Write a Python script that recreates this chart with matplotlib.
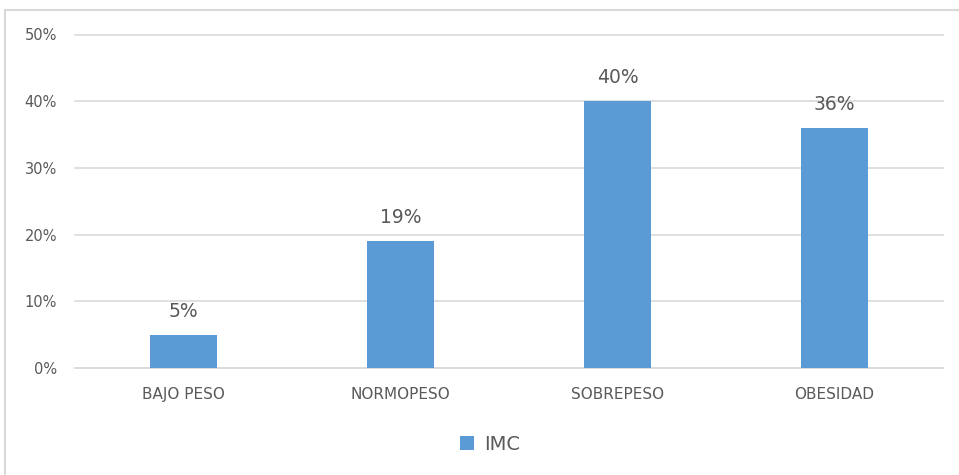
import matplotlib
matplotlib.use("Agg")
import matplotlib.pyplot as plt
from matplotlib.patches import Rectangle, Patch
from matplotlib.ticker import FuncFormatter, MultipleLocator

categories = ["BAJO PESO", "NORMOPESO", "SOBREPESO", "OBESIDAD"]
imc_pct = [5, 19, 40, 36]
series_name = "IMC"

BAR_COLOR = "#5b9bd5"
TEXT_GRAY = "#595959"
GRID_GRAY = "#d9d9d9"

plt.rcParams["font.family"] = ["DejaVu Sans"]

W, H = 959, 475
fig = plt.figure(figsize=(W / 100, H / 100), dpi=100)
ax = fig.add_axes([75 / W, 1 - 368 / H, (943 - 75) / W, (368 - 34.5) / H])

x = list(range(len(categories)))
bars = ax.bar(x, imc_pct, width=0.313, color=BAR_COLOR, zorder=3)

for rect, v in zip(bars, imc_pct):
    ax.annotate(f"{v}%", (rect.get_x() + rect.get_width() / 2, v),
                xytext=(0, 10), textcoords="offset points",
                ha="center", va="bottom", fontsize=13.5, color=TEXT_GRAY)

ax.set_xlim(-0.5, len(categories) - 0.5)
ax.set_ylim(0, 50)
ax.yaxis.set_major_locator(MultipleLocator(10))
ax.yaxis.set_major_formatter(FuncFormatter(lambda v, _: f"{v:.0f}%"))
ax.set_xticks(x)
ax.set_xticklabels(categories)
ax.tick_params(axis="x", length=0, pad=14, labelsize=11, labelcolor=TEXT_GRAY)
ax.tick_params(axis="y", length=0, pad=13, labelsize=10.5, labelcolor=TEXT_GRAY)

ax.grid(axis="y", color=GRID_GRAY, linewidth=1.2, zorder=0)
for gl in ax.yaxis.get_gridlines():
    gl.set_clip_on(False)
for side in ["top", "right", "left"]:
    ax.spines[side].set_visible(False)
ax.spines["bottom"].set_color(GRID_GRAY)
ax.spines["bottom"].set_linewidth(1.2)

# chart frame
fig.patches.append(Rectangle((5 / W, -0.05), 1.0, 1 - 10 / H + 0.05,
                             transform=fig.transFigure, fill=False,
                             edgecolor=GRID_GRAY, linewidth=1.5))

handle = Patch(facecolor=BAR_COLOR, edgecolor="none")
fig.legend([handle], [series_name], loc="center", bbox_to_anchor=(490 / W, 1 - 444 / H),
           frameon=False, fontsize=14, labelcolor=TEXT_GRAY,
           handlelength=0.7, handleheight=0.7, handletextpad=0.5)

fig.savefig("out.png", dpi=100)
